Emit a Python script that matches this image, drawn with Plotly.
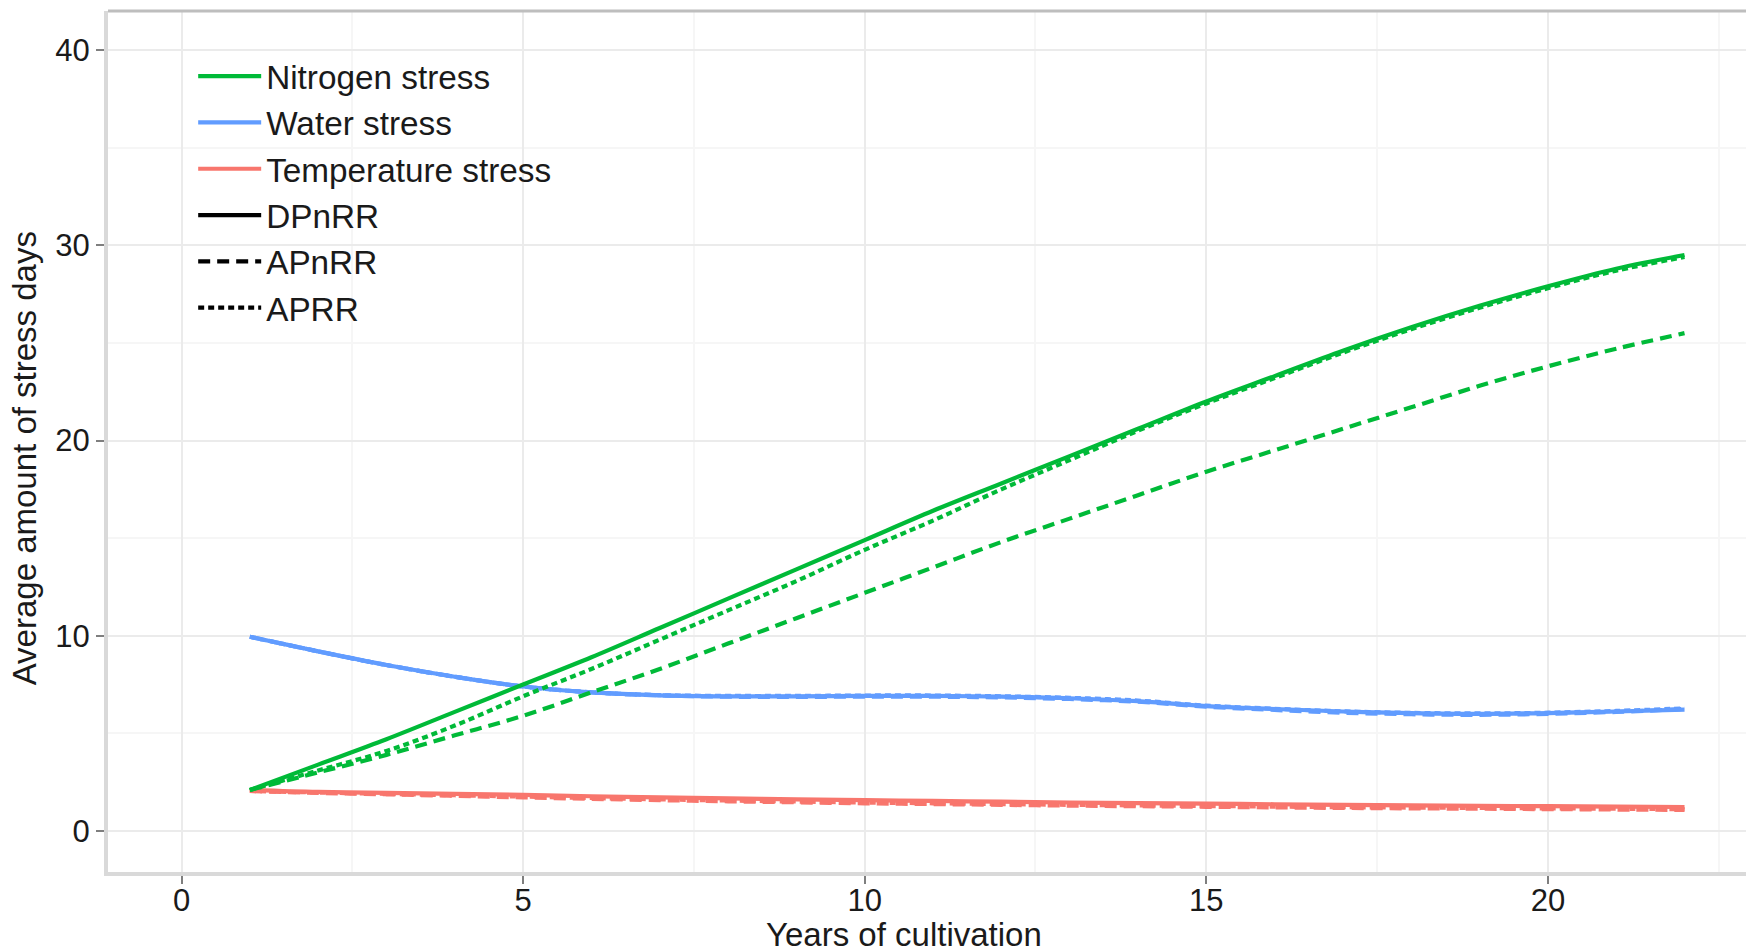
import plotly.graph_objects as go

years = list(range(1, 23))

nitrogen_DPnRR = [2.1, 3.4, 4.7, 6.1, 7.5, 8.9, 10.4, 11.9, 13.4, 14.9, 16.4, 17.8, 19.2, 20.6, 22.0, 23.3, 24.6, 25.8, 26.9, 27.9, 28.8, 29.5]
nitrogen_APnRR = [2.1, 3.0, 3.9, 4.9, 5.9, 7.1, 8.3, 9.6, 10.9, 12.2, 13.5, 14.8, 16.0, 17.2, 18.4, 19.5, 20.6, 21.7, 22.8, 23.8, 24.7, 25.5]
nitrogen_APRR = [2.1, 3.1, 4.1, 5.4, 6.9, 8.3, 9.8, 11.3, 12.8, 14.4, 15.9, 17.5, 19.0, 20.5, 21.9, 23.2, 24.5, 25.7, 26.8, 27.8, 28.7, 29.4]

water_DPnRR = [9.95, 9.2, 8.5, 7.9, 7.4, 7.1, 6.95, 6.9, 6.9, 6.92, 6.92, 6.88, 6.8, 6.65, 6.4, 6.25, 6.12, 6.04, 6.0, 6.04, 6.12, 6.22]
water_APnRR = [9.95, 9.2, 8.5, 7.9, 7.4, 7.1, 6.95, 6.88, 6.87, 6.88, 6.88, 6.84, 6.76, 6.62, 6.37, 6.2, 6.06, 5.98, 5.95, 6.0, 6.1, 6.25]
water_APRR = [9.95, 9.2, 8.5, 7.9, 7.4, 7.1, 6.96, 6.92, 6.92, 6.94, 6.94, 6.9, 6.82, 6.68, 6.42, 6.26, 6.13, 6.05, 6.02, 6.06, 6.15, 6.28]

temp_DPnRR = [2.1, 2.0, 1.95, 1.9, 1.85, 1.78, 1.72, 1.67, 1.62, 1.58, 1.54, 1.50, 1.46, 1.43, 1.40, 1.37, 1.34, 1.31, 1.29, 1.27, 1.25, 1.23]
temp_APnRR = [2.05, 1.95, 1.88, 1.8, 1.72, 1.65, 1.58, 1.52, 1.47, 1.42, 1.38, 1.34, 1.30, 1.27, 1.24, 1.21, 1.18, 1.16, 1.14, 1.12, 1.10, 1.08]
temp_APRR = [2.05, 1.97, 1.9, 1.83, 1.76, 1.69, 1.62, 1.56, 1.51, 1.46, 1.42, 1.38, 1.34, 1.31, 1.28, 1.25, 1.22, 1.20, 1.18, 1.16, 1.14, 1.12]

stress_names = ["Nitrogen stress", "Water stress", "Temperature stress"]
scenario_names = ["DPnRR", "APnRR", "APRR"]

x_ticks = [0, 5, 10, 15, 20]
y_ticks = [0, 10, 20, 30, 40]

x_title = "Years of cultivation"
y_title = "Average amount of stress days"

colors = {"Nitrogen stress": "#00BA38", "Water stress": "#619CFF", "Temperature stress": "#F8766D"}
dashes = {"DPnRR": "solid", "APnRR": "12px,7px", "APRR": "6px,4px"}

series = {
    ("Nitrogen stress", "DPnRR"): nitrogen_DPnRR,
    ("Nitrogen stress", "APnRR"): nitrogen_APnRR,
    ("Nitrogen stress", "APRR"): nitrogen_APRR,
    ("Water stress", "DPnRR"): water_DPnRR,
    ("Water stress", "APnRR"): water_APnRR,
    ("Water stress", "APRR"): water_APRR,
    ("Temperature stress", "DPnRR"): temp_DPnRR,
    ("Temperature stress", "APnRR"): temp_APnRR,
    ("Temperature stress", "APRR"): temp_APRR,
}

fig = go.Figure()
LW = 4.2

for stress in ["Temperature stress", "Water stress", "Nitrogen stress"]:
    for scen in ["APRR", "APnRR", "DPnRR"]:
        fig.add_trace(go.Scatter(
            x=years, y=series[(stress, scen)], mode="lines",
            line=dict(color=colors[stress], width=LW, dash=dashes[scen], shape="spline"),
            showlegend=False, name=f"{stress} {scen}",
        ))

for stress in stress_names:
    fig.add_trace(go.Scatter(x=[None], y=[None], mode="lines", name=stress,
                             line=dict(color=colors[stress], width=LW)))
for scen in scenario_names:
    fig.add_trace(go.Scatter(x=[None], y=[None], mode="lines", name=scen,
                             line=dict(color="black", width=LW, dash=dashes[scen])))

font_family = "Liberation Sans, Arial, sans-serif"
txt = "#1a1a1a"

fig.update_layout(
    width=1746, height=952,
    margin=dict(l=108, r=0, t=11, b=80),
    paper_bgcolor="white", plot_bgcolor="white",
    font=dict(family=font_family, size=31, color=txt),
    showlegend=True,
    legend=dict(
        x=0.052, y=0.957, xanchor="left", yanchor="top",
        bgcolor="rgba(0,0,0,0)", font=dict(size=33.3, color=txt),
        tracegroupgap=0, itemwidth=63,
    ),
    xaxis=dict(
        range=[-1.076, 22.9], tickvals=x_ticks, ticktext=[str(v) for v in x_ticks],
        showgrid=True, gridcolor="#ebebeb", gridwidth=2,
        minor=dict(dtick=2.5, showgrid=True, gridcolor="#f6f6f6", gridwidth=1.5),
        showline=True, linecolor="#d9d9d9", linewidth=4,
        ticks="outside", ticklen=8, tickwidth=2, tickcolor="#7f7f7f",
        tickfont=dict(size=31, color=txt), ticklabelstandoff=-10,
        zeroline=False,
    ),
    yaxis=dict(
        range=[-2.1, 42.0], tickvals=y_ticks, ticktext=[str(v) for v in y_ticks],
        showgrid=True, gridcolor="#ebebeb", gridwidth=2,
        minor=dict(dtick=5, showgrid=True, gridcolor="#f6f6f6", gridwidth=1.5),
        showline=True, linecolor="#d9d9d9", linewidth=4,
        ticks="outside", ticklen=8, tickwidth=2, tickcolor="#7f7f7f",
        tickfont=dict(size=31, color=txt),
        zeroline=False,
    ),
    shapes=[dict(type="line", xref="paper", yref="paper", x0=0, x1=1, y0=1, y1=1,
                 line=dict(color="#bebebe", width=3))],
    annotations=[
        dict(text=x_title, xref="paper", yref="paper", x=0.486, y=-0.073,
             xanchor="center", yanchor="middle", showarrow=False,
             font=dict(size=33, color=txt)),
        dict(text=y_title, xref="paper", yref="paper", x=-0.051, y=0.481,
             xanchor="center", yanchor="middle", showarrow=False, textangle=-90,
             font=dict(size=33, color=txt)),
    ],
)

fig.write_html("out.html")
